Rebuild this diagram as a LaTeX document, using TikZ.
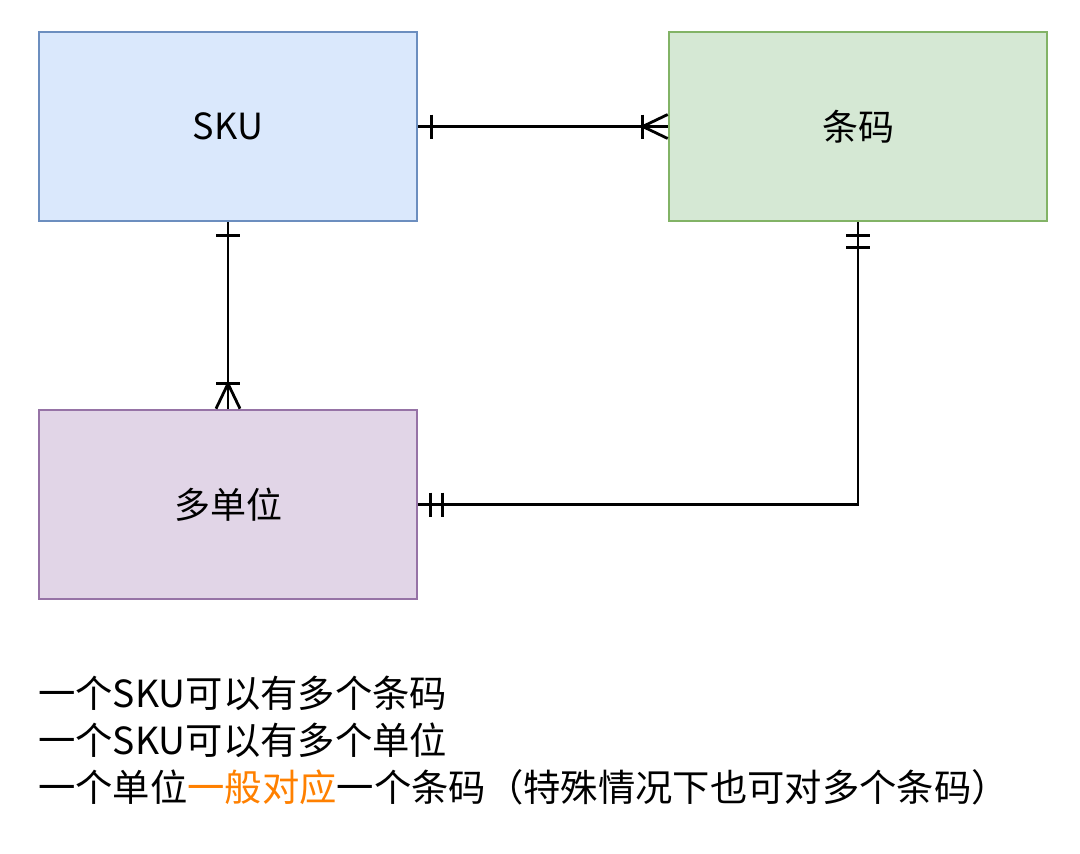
\documentclass[tikz,border=0pt]{standalone}
\usepackage{fontspec}
\setmainfont{Noto Sans CJK SC}
\usetikzlibrary{calc}
\definecolor{bluefill}{HTML}{DAE8FC}\definecolor{bluedraw}{HTML}{6C8EBF}
\definecolor{greenfill}{HTML}{D5E8D4}\definecolor{greendraw}{HTML}{82B366}
\definecolor{purplefill}{HTML}{E1D5E7}\definecolor{purpledraw}{HTML}{9673A6}
\definecolor{accent}{HTML}{FF8000}
\tikzset{
  entity/.style={draw, line width=2pt, minimum width=283.5pt, minimum height=141.75pt, inner sep=0pt, font=\fontsize{27}{30}\selectfont},
  rel/.style={line width=2.1pt, black},
  note/.style={anchor=west, inner sep=0pt, font=\fontsize{28}{35}\selectfont}
}
\begin{document}
\begin{tikzpicture}[x=0.75pt, y=-0.75pt]
\useasboundingbox (0,0) rectangle (1080,853);
\node[entity, fill=bluefill, draw=bluedraw] (sku) at (228,126.5) {SKU};
\node[entity, fill=greenfill, draw=greendraw] (bc) at (858,126.5) {条码};
\node[entity, fill=purplefill, draw=purpledraw] (unit) at (228,504.5) {多单位};
% SKU -- 条码
\draw[rel] (sku.east) -- (bc.west);
\draw[rel] ($(sku.east)+(13,-12)$) -- ++(0,24);
\draw[rel] ($(bc.west)+(-25,-12)$) -- ++(0,24);
\draw[rel] (bc.west) ++(0,-12) -- ++(-25,12) -- ++(25,12);
% SKU -- 多单位
\draw[rel] (sku.south) -- (unit.north);
\draw[rel] ($(sku.south)+(-12,13)$) -- ++(24,0);
\draw[rel] ($(unit.north)+(-12,-25)$) -- ++(24,0);
\draw[rel] (unit.north) ++(-12,0) -- ++(12,-25) -- ++(12,25);
% 条码 -- 多单位
\coordinate (corner) at (bc.south |- unit.east);
\draw[rel] (bc.south) -- (corner) -- (unit.east);
\draw[rel] ($(bc.south)+(-12,13)$) -- ++(24,0);
\draw[rel] ($(bc.south)+(-12,25)$) -- ++(24,0);
\draw[rel] ($(unit.east)+(12,-12)$) -- ++(0,24);
\draw[rel] ($(unit.east)+(24,-12)$) -- ++(0,24);
% notes
\node[note] (n1) at (38,693) {一个SKU可以有多个条码};
\node[note] (n2) at (38,740) {一个SKU可以有多个单位};
\node[note] (n3) at (38,787) {一个单位\textcolor{accent}{一般对应}一个条码（特殊情况下也可对多个条码）};
\end{tikzpicture}
\end{document}
